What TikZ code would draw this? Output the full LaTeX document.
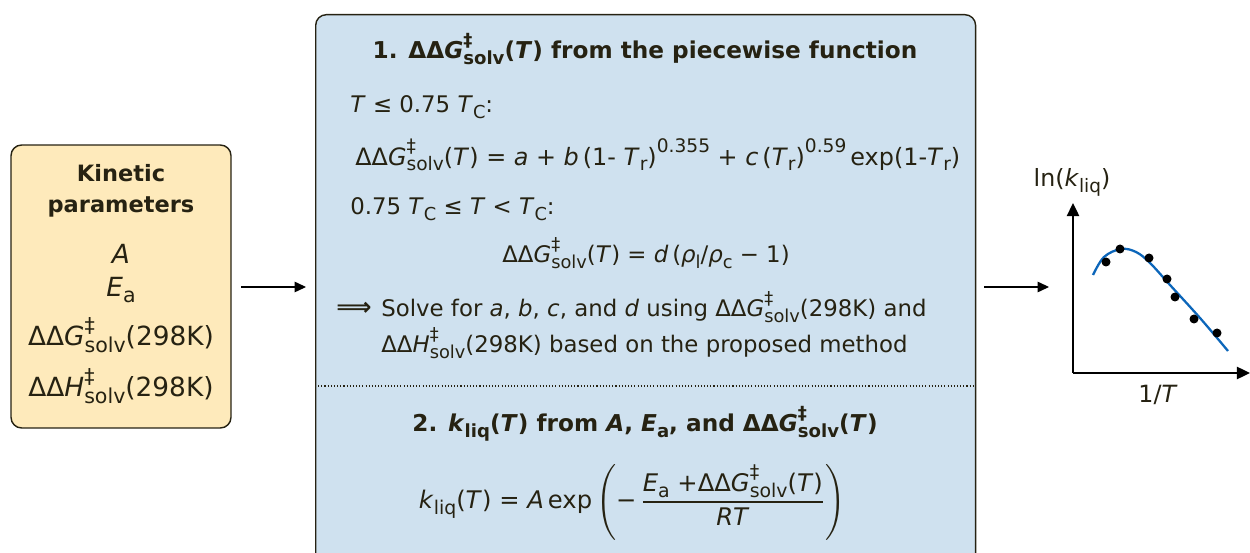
\documentclass[tikz,border=0pt]{standalone}
\usepackage{fontspec}
\setmainfont{DejaVu Sans}
\usepackage{amsmath}
\usepackage{graphicx}
\usetikzlibrary{positioning, arrows.meta, calc}
\definecolor{kinYellow}{RGB}{254,234,187}
\definecolor{stepBlue}{RGB}{207,225,239}
\definecolor{inkDark}{RGB}{38,34,18}
\definecolor{fitBlue}{RGB}{12,102,186}

\newcommand{\lo}[1]{\raisebox{-0.45ex}{\scalebox{0.78}{#1}}}
\newcommand{\hi}[1]{\raisebox{0.95ex}{\scalebox{0.78}{#1}}}
\newcommand{\hilo}[2]{\makebox[0pt][l]{\hi{#1}}\lo{#2}}
\newcommand{\ddG}{ΔΔ\textit{G}\hilo{‡}{solv}}
\newcommand{\ddH}{ΔΔ\textit{H}\hilo{‡}{solv}}

\begin{document}
\begin{tikzpicture}[
  x=0.02cm, y=-0.02cm,
  panel/.style={draw=inkDark, line width=0.8pt, rounded corners=6pt},
  body/.style={font=\fontsize{13}{16}\selectfont, text=inkDark, inner sep=0pt},
  big/.style={font=\fontsize{15}{18}\selectfont, text=inkDark, inner sep=0pt},
  head/.style={font=\fontsize{13.2}{16}\selectfont\bfseries, text=inkDark, inner sep=0pt},
  flow/.style={-{Triangle[length=6.5pt, width=6pt]}, line width=0.6pt, draw=black},
  axis/.style={-{Triangle[length=7.5pt, width=7pt]}, line width=1.1pt, draw=black},
  sep/.style={draw=inkDark, line width=0.6pt, dash pattern=on 0.6pt off 1.2pt},
]
  \clip (0,0) rectangle (1250,553);

  % kinetic parameters
  \node[panel, fill=kinYellow, minimum width=4.4cm, minimum height=5.66cm] (kin) at (121,286.5) {};
  \node[head, font=\fontsize{12.8}{15}\selectfont\bfseries, align=center] (kintitle) at (121,191) {Kinetic\\[2.5pt]parameters};
  \node[big] (parA) at (121,254) {\textit{A}};
  \node[big] (parE) at (121,290) {\textit{E}\lo{a}};
  \node[big] (parG) at (121,335) {\ddG(298K)};
  \node[big] (parH) at (121,386) {\ddH(298K)};

  % the two steps
  \node[panel, fill=stepBlue, minimum width=13.2cm, minimum height=11.4cm, anchor=north west] (mid) at (315,14) {};
  \node[head] (t1) at (645,49) {1. ΔΔ\textit{G}\hilo{‡}{solv}(\textit{T}) from the piecewise function};
  \node[body, anchor=west] (c1) at (350,107) {\textit{T} ≤ 0.75 \textit{T}\lo{C}:};
  \node[body, font=\fontsize{13.6}{16}\selectfont, anchor=west] (e1) at (355,155)
    {\ddG(\textit{T}) = \textit{a} + \textit{b}\,(1- \textit{T}\lo{r})\hi{0.355} + \textit{c}\,(\textit{T}\lo{r})\hi{0.59}\,exp(1-\textit{T}\lo{r})};
  \node[body, anchor=west] (c2) at (350,209) {0.75 \textit{T}\lo{C} ≤ \textit{T} < \textit{T}\lo{C}:};
  \node[body] (e2) at (646,253) {\ddG(\textit{T}) = \textit{d}\,(\textit{ρ}\lo{l}/\textit{ρ}\lo{c} − 1)};
  \node[body, font=\fontsize{14}{16}\selectfont\bfseries] (imp) at (354,309) {⟹};
  \node[body, anchor=west, align=left] (sol) at (381,325)
    {Solve for \textit{a}, \textit{b}, \textit{c}, and \textit{d} using \ddG(298K) and\\[2pt]
     \ddH(298K) based on the proposed method};
  \coordinate (sepL) at (315,386);
  \coordinate (sepR) at (975,386);
  \draw[sep] (sepL) -- (sepR);
  \node[head] (t2) at (645,424) {2. \textit{k}\lo{liq}(\textit{T}) from \textit{A}, \textit{E}\lo{a}, and ΔΔ\textit{G}\hilo{‡}{solv}(\textit{T})};
  \node[body, font=\fontsize{13.8}{16}\selectfont] (e3) at (632,502)
    {\textit{k}\lo{liq}(\textit{T}) = \textit{A}\,exp\,$\left(\rule[-1.15em]{0pt}{2.8em}\mbox{−}\,\dfrac{\mbox{\textit{E}\lo{a} +\ddG(\textit{T})}}{\mbox{\textit{RT}}}\right)$};

  % ln k vs 1/T sketch
  \coordinate (o) at (1073,373);
  \coordinate (ytip) at (1073,203);
  \coordinate (xtip) at (1250,373);
  \draw[axis] (o) -- (ytip);
  \draw[axis] (o) -- (xtip);
  \node[body, font=\fontsize{13.5}{16}\selectfont] (ylab) at (1072,182) {ln(\textit{k}\lo{liq})};
  \node[body, font=\fontsize{13.5}{16}\selectfont] (xlab) at (1158,395) {1/\textit{T}};
  \draw[fitBlue, line width=1.3pt] plot[smooth, tension=0.6] coordinates
    {(1093,275) (1104,257) (1121,249) (1136,252) (1150,263) (1170,285) (1200,318) (1228,351)};
  \foreach \px/\py in {1106/262, 1120/249, 1149/258, 1167/279, 1175/297, 1194/319, 1217/333}
    \fill (\px,\py) circle (4.5);

  % arrows
  \coordinate (kinOut) at (241,287);
  \coordinate (midIn) at (306,287);
  \coordinate (midOut) at (984,287);
  \coordinate (plotIn) at (1049,287);
  \draw[flow] (kinOut) -- (midIn);
  \draw[flow] (midOut) -- (plotIn);
\end{tikzpicture}
\end{document}
